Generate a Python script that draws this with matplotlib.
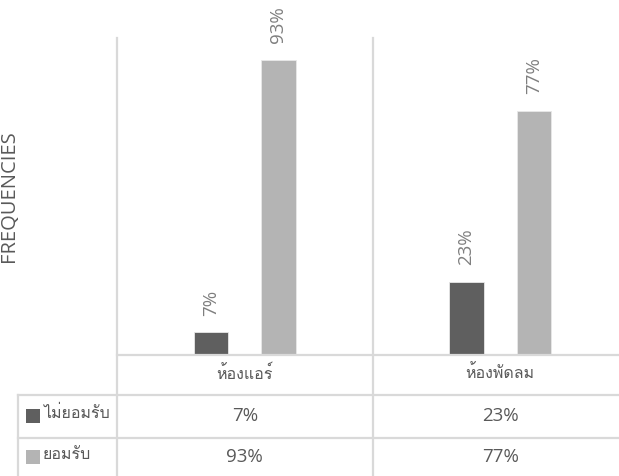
import matplotlib
matplotlib.use("Agg")
import matplotlib.pyplot as plt
from matplotlib import font_manager
from matplotlib.ft2font import FT2Font
import numpy as np

categories = ["ห้องแอร์", "ห้องพัดลม"]
series_names = ["ไม่ยอมรับ", "ยอมรับ"]
not_accept = [7, 23]
accept = [93, 77]
value_labels = [["7%", "23%"], ["93%", "77%"]]
colors = ["#5f5f5f", "#b4b4b4"]

# find a font with Thai glyphs
thai_fams = []
for f in font_manager.fontManager.ttflist:
    try:
        ft = FT2Font(f.fname)
        if ft.get_char_index(0x0E2B) and f.name not in thai_fams:
            thai_fams.append(f.name)
    except Exception:
        pass

W, H = 619, 476
fig = plt.figure(figsize=(W / 100, H / 100), dpi=100)

def fx(px):
    return px / W

def fy(py):
    return 1 - py / H

base_fam = ["Open Sans", "DejaVu Sans"]
thai_fam = thai_fams[:1] + ["Open Sans", "DejaVu Sans"]

ax_left, ax_right, ax_top, ax_bot = 117, 628, 38, 354.5
ax = fig.add_axes([fx(ax_left), fy(ax_bot), fx(ax_right - ax_left), (ax_bot - ax_top) / H])
ax.set_ylim(0, 100)
ax.set_xlim(-0.5, 1.5)
x = np.arange(len(categories))
bw = 0.134
off = 0.132
grid = "#d9d9d9"
for i, (vals, c) in enumerate([(not_accept, colors[0]), (accept, colors[1])]):
    xs = x + (-off if i == 0 else off)
    ax.bar(xs, vals, width=bw, color=c, edgecolor="#e8e8e8", linewidth=0.6, zorder=3)
    for xi, v, lab in zip(xs, vals, value_labels[i]):
        ax.text(xi, v + 5.3, lab, rotation=90, ha="center", va="bottom",
                fontsize=13.5, color="#7f7f7f", family=base_fam)
ax.axvline(0.5, color=grid, lw=1.2, zorder=1)
ax.axvline(-0.5, color=grid, lw=1.2, zorder=1)
for s in ax.spines.values():
    s.set_visible(False)
ax.set_xticks([])
ax.set_yticks([])
ax.patch.set_alpha(0)

# table lines (figure coords)
div_x = 372.5
def hline(y, x0, x1):
    fig.add_artist(plt.Line2D([fx(x0), fx(x1)], [fy(y), fy(y)], color=grid, lw=1.6))
def vline(x, y0, y1):
    fig.add_artist(plt.Line2D([fx(x), fx(x)], [fy(y0), fy(y1)], color=grid, lw=1.6))

hline(354.5, ax_left, W)
hline(395, 17.5, W)
hline(437.5, 17.5, W)
vline(ax_left, 38, H)
vline(div_x, 38, H)
vline(17.5, 395, H)

# category labels
cat_cx = [(ax_left + div_x) / 2, div_x + (div_x - ax_left) / 2]
for cx, lab in zip(cat_cx, categories):
    fig.text(fx(cx), fy(374), lab, ha="center", va="center", fontsize=11.5,
             color="#595959", family=thai_fam)

row_y = [416, 457]
for r in range(2):
    for cx, lab in zip(cat_cx, value_labels[r]):
        fig.text(fx(cx), fy(row_y[r]), lab, ha="center", va="center", fontsize=13.5,
                 color="#595959", family=base_fam)
    fig.add_artist(plt.Rectangle((fx(26), fy(row_y[r] + 6.5)), fx(13.5), 13.5 / H,
                                 color=colors[r], lw=0))
    fig.text(fx(43), fy(row_y[r] - 2), series_names[r], ha="left", va="center",
             fontsize=11.5, color="#595959", family=thai_fam)

fig.text(fx(9), fy(196), "FREQUENCIES", rotation=90, ha="center", va="center",
         fontsize=14.5, color="#595959", family=base_fam)

fig.savefig("out.png", dpi=100)
